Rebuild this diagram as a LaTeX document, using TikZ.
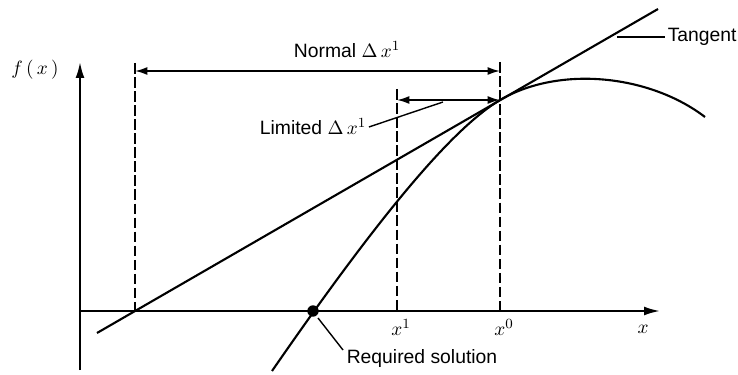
\documentclass[tikz,border=0pt]{standalone}
\usepackage{fontspec}
\setmainfont{Liberation Sans}
\usetikzlibrary{arrows.meta}
\tikzset{
  every picture/.style={
    every path/.style={line width=1.2pt},
  }
}
\tikzset{dashline/.style = {dash pattern=on 6pt off 2pt, line width=0.8pt}}
\tikzset{lead/.style = {line width=0.8pt}}
\tikzset{dimarrow/.style = {{Latex[length=7pt,width=4.5pt]}-{Latex[length=7pt,width=4.5pt]}, line width=1pt}}
\tikzset{circ/.style = {fill, circle, inner sep = 0, minimum size = 6.5pt}}
\tikzset{lbl/.style = {inner sep=1pt, font=\fontsize{11}{13}\selectfont}}

\begin{document}
\begin{tikzpicture}[x=0.02cm, y=-0.02cm]
        \useasboundingbox (0,0) rectangle (738,375);
        % axes
        \coordinate (ybot) at (80,370);
        \coordinate (ytop) at (80,62);
        \coordinate (xbeg) at (80,311);
        \coordinate (xend) at (660,311);
        \draw[-{Latex[length=9pt,width=5pt]}] (ybot) -- (ytop);
        \draw[-{Latex[length=9pt,width=5pt]}] (xbeg) -- (xend);
        \node[lbl] (fx) at (35,70) {$f\,(\,x\,)$};
        \node[lbl] (xlab) at (643,329) {$x$};
        % tangent and curve
        \coordinate (tlow) at (97,333);
        \coordinate (thigh) at (658,9);
        \coordinate (p0) at (500,100);
        \coordinate (clow) at (272,371);
        \coordinate (chigh) at (705,117);
        \draw (tlow) -- (thigh);
        \draw (clow) .. controls (375,222) and (450,130) .. (p0)
                     .. controls (560,65) and (650,75) .. (chigh);
        \node[circ] (sol) at (313,311) {};
        % dashed verticals
        \coordinate (d1top) at (135,63);
        \coordinate (d1bot) at (135,311);
        \coordinate (d2top) at (397,89);
        \coordinate (d2bot) at (397,311);
        \coordinate (d3top) at (500,62);
        \coordinate (d3bot) at (500,311);
        \draw[dashline] (d1top) -- (d1bot);
        \draw[dashline] (d2top) -- (d2bot);
        \draw[dashline] (d3top) -- (d3bot);
        \node[lbl] (x1) at (401,327) {$x^1$};
        \node[lbl] (x0) at (504,327) {$x^0$};
        % steps
        \coordinate (n1) at (135,71);
        \coordinate (n2) at (500,71);
        \coordinate (l1) at (397,100);
        \draw[dimarrow] (n1) -- (n2);
        \draw[dimarrow] (p0) -- (l1);
        \node[lbl] (normal) at (347,50) {Normal $\Delta\,x^1$};
        \node[lbl] (limited) at (313,127) {Limited $\Delta\,x^1$};
        \coordinate (limend) at (443,102);
        \draw[lead] (limited.east) -- (limend);
        % labels with leaders
        \node[lbl, anchor=west] (tang) at (665,37) {Tangent};
        \coordinate (tangbeg) at (617,37);
        \draw[lead] (tangbeg) -- (tang.west);
        \node[lbl] (req) at (422,359) {Required solution};
        \coordinate (reqbeg) at (318,318);
        \coordinate (reqend) at (343,350);
        \draw[lead] (reqbeg) -- (reqend);
      \end{tikzpicture}
\end{document}
